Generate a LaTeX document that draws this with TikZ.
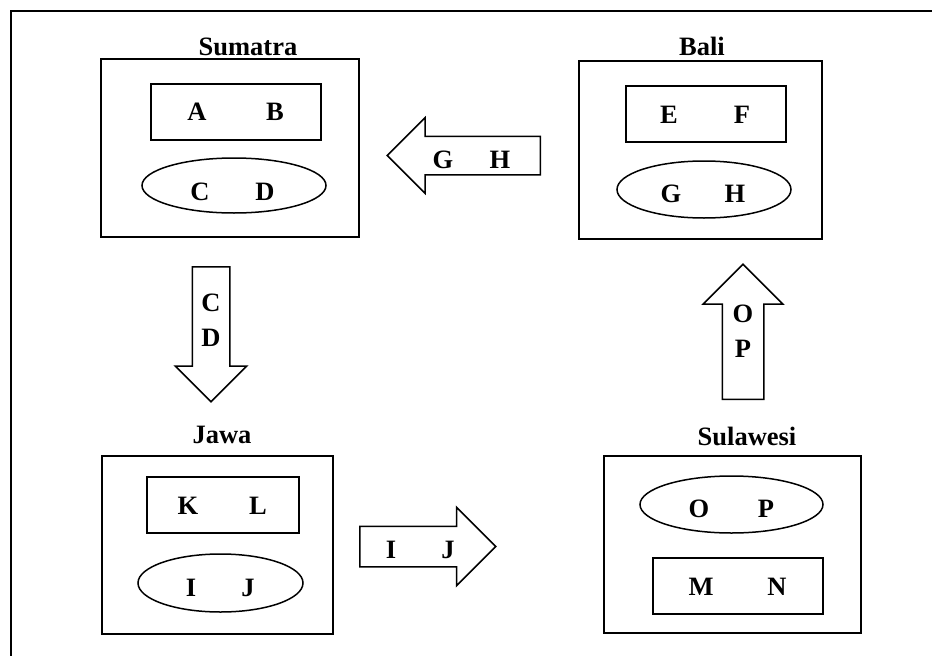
\documentclass[tikz,border=0pt]{standalone}
\usepackage{fontspec}
\setmainfont{Liberation Serif}
\usetikzlibrary{shapes.geometric, shapes.arrows}

\newcommand{\duo}[3]{\makebox[#3pt]{#1}\makebox[#3pt]{#2}}

\tikzset{
  island/.style={draw, line width=1.5pt, inner sep=0pt},
  group/.style={draw, line width=1.5pt, inner sep=0pt},
  oval/.style={draw, ellipse, line width=1.5pt, inner sep=0pt},
  letters/.style={inner sep=0pt, text depth=0pt},
  title/.style={inner sep=0pt, anchor=base},
  flow/.style={draw, single arrow, single arrow head extend=#1, line width=1.5pt,
    inner xsep=0pt, anchor=tail},
}

\begin{document}
\begin{tikzpicture}[x=1pt, y=-1pt, font=\fontsize{26.5}{35}\selectfont\bfseries]
  \useasboundingbox (0,0) rectangle (932,656);
  % Frame
  \draw[line width=2.2pt] (11,656) -- (11,11) -- (932,11);

  % Sumatra
  \node[title] (sumT) at (248,55) {Sumatra};
  \node[island, minimum width=258pt, minimum height=178pt] (sum) at (230,148) {};
  \node[group, minimum width=170pt, minimum height=56pt] (sumR) at (236,112) {};
  \node[oval, minimum width=184pt, minimum height=55pt] (sumE) at (234,185.5) {};
  \node[letters] (sumAB) at (236,112) {\duo{A}{B}{78}};
  \node[letters] (sumCD) at (232.5,192) {\duo{C}{D}{65}};

  % Bali
  \node[title] (balT) at (702,55) {Bali};
  \node[island, minimum width=243pt, minimum height=178pt] (bal) at (700.5,150) {};
  \node[group, minimum width=160pt, minimum height=56pt] (balR) at (706,114) {};
  \node[oval, minimum width=174pt, minimum height=57pt] (balE) at (704,189.5) {};
  \node[letters] (balEF) at (705.5,115) {\duo{E}{F}{73}};
  \node[letters] (balGH) at (703,194) {\duo{G}{H}{64}};

  % Jawa
  \node[title] (jawT) at (222,443) {Jawa};
  \node[island, minimum width=231pt, minimum height=178pt] (jaw) at (217.5,545) {};
  \node[group, minimum width=152pt, minimum height=56pt] (jawR) at (223,505) {};
  \node[oval, minimum width=165pt, minimum height=58pt] (jawE) at (220.5,583) {};
  \node[letters] (jawKL) at (223,506) {\duo{K}{L}{70}};
  \node[letters] (jawIJ) at (219.5,587.5) {\duo{I}{J}{57}};

  % Sulawesi
  \node[title] (sulT) at (747,445) {Sulawesi};
  \node[island, minimum width=257pt, minimum height=177pt] (sul) at (732.5,544.5) {};
  \node[oval, minimum width=183pt, minimum height=57pt] (sulE) at (731.5,504.5) {};
  \node[group, minimum width=170pt, minimum height=56pt] (sulR) at (738,586) {};
  \node[letters] (sulOP) at (732.5,508.5) {\duo{O}{P}{67}};
  \node[letters] (sulMN) at (739,587) {\duo{M}{N}{76}};

  % Arrows
  \node[flow=18.5pt, inner ysep=18.5pt, rotate=180, minimum height=153pt, minimum width=74pt]
    (balsum) at (541,155.5) {};
  \node[letters] (balsumL) at (471.5,160) {\duo{G}{H}{57}};
  \node[flow=17pt, inner ysep=18pt, rotate=270, minimum height=135pt, minimum width=70pt]
    (sumjaw) at (211,266) {};
  \node[letters, align=center] (sumjawL) at (211,320.5) {C\\D};
  \node[flow=19pt, inner ysep=19.5pt, minimum height=136pt, minimum width=77pt]
    (jawsul) at (359,546.5) {};
  \node[letters] (jawsulL) at (419.5,550) {\duo{I}{J}{57}};
  \node[flow=19pt, inner ysep=20pt, rotate=90, minimum height=135pt, minimum width=78pt]
    (sulbal) at (743,400) {};
  \node[letters, align=center] (sulbalL) at (743,331.5) {O\\P};
\end{tikzpicture}
\end{document}
